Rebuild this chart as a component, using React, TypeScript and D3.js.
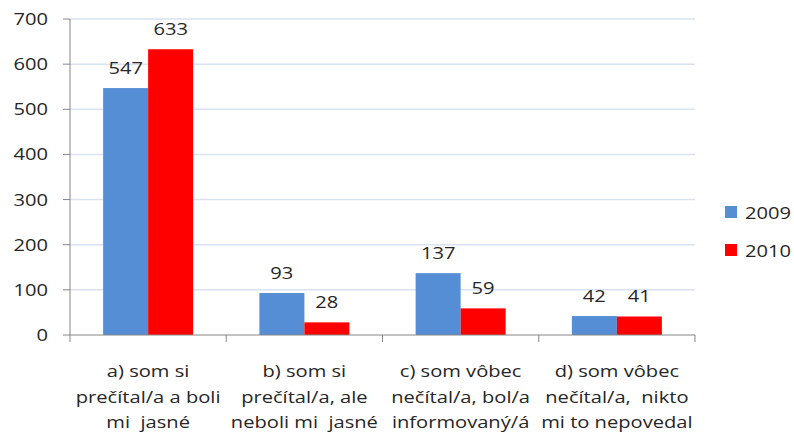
import React from "react";
import * as d3 from "d3";

const categories = [
  ["a) som si", "prečítal/a a boli", "mi  jasné"],
  ["b) som si", "prečítal/a, ale", "neboli mi  jasné"],
  ["c) som vôbec", "nečítal/a, bol/a", "informovaný/á"],
  ["d) som vôbec", "nečítal/a,  nikto", "mi to nepovedal"],
];
const series = ["2009", "2010"];
const values2009 = [547, 93, 137, 42];
const values2010 = [633, 28, 59, 41];
const yTicks = [0, 100, 200, 300, 400, 500, 600, 700];
const colors = ["#558ed5", "#ff0000"];

const W = 794;
const H = 434;
const left = 70;
const right = 695;
const top = 19;
const bottom = 335;
const font = "'Open Sans', 'Noto Sans', sans-serif";
const stretch = 1.22;

type LabelProps = {
  x: number;
  y: number;
  anchor?: "start" | "middle" | "end";
  size?: number;
  children: React.ReactNode;
};

// Text drawn with a wide horizontal stretch
function Label({ x, y, anchor = "middle", size = 16.5, children }: LabelProps) {
  return (
    <text
      transform={`translate(${x},${y}) scale(${stretch},1)`}
      textAnchor={anchor}
      fontSize={size}
      fill="#262626"
      style={{ whiteSpace: "pre" }}
    >
      {children}
    </text>
  );
}

export default function App() {
  const x = d3.scaleBand<number>().domain(d3.range(categories.length)).range([left, right]);
  const inner = d3.scaleBand<number>().domain([0, 1]).range([0, 90]);
  const y = d3.scaleLinear().domain([0, 700]).range([bottom, top]);
  const data = [values2009, values2010];
  const bw = x.bandwidth();
  const groupOffset = (bw - 90) / 2;

  return (
    <svg width={W} height={H} style={{ position: "absolute", left: 0, top: 0 }} fontFamily={font}>
      <rect width={W} height={H} fill="#fff" />
      {yTicks.slice(1).map((t) => (
        <line key={t} x1={left} x2={right} y1={y(t)} y2={y(t)} stroke="#d9e2f1" strokeWidth={1.5} />
      ))}
      {data.map((vals, s) =>
        vals.map((v, i) => {
          const bx = (x(i) as number) + groupOffset + (inner(s) as number);
          return (
            <g key={`${s}-${i}`}>
              <rect x={bx} y={y(v)} width={inner.bandwidth()} height={bottom - y(v)} fill={colors[s]} />
              <Label x={bx + inner.bandwidth() / 2} y={y(v) - 14}>
                {v}
              </Label>
            </g>
          );
        })
      )}
      <line x1={left} x2={left} y1={top} y2={bottom} stroke="#868686" />
      <line x1={left} x2={right} y1={bottom} y2={bottom} stroke="#868686" />
      {yTicks.map((t) => (
        <g key={t}>
          <line x1={left - 7} x2={left} y1={y(t)} y2={y(t)} stroke="#868686" />
          <Label x={48} y={y(t) + 6} anchor="end">
            {t}
          </Label>
        </g>
      ))}
      {d3.range(categories.length + 1).map((i) => {
        const tx = left + i * bw;
        return <line key={i} x1={tx} x2={tx} y1={bottom} y2={bottom + 7} stroke="#868686" />;
      })}
      {categories.map((lines, i) =>
        lines.map((l, j) => (
          <Label key={`${i}-${j}`} x={(x(i) as number) + bw / 2} y={377 + j * 25.5}>
            {l}
          </Label>
        ))
      )}
      {series.map((s, k) => (
        <g key={s}>
          <rect x={725} y={206 + k * 38} width={12} height={12} fill={colors[k]} />
          <Label x={745} y={219 + k * 38} anchor="start">
            {s}
          </Label>
        </g>
      ))}
    </svg>
  );
}
